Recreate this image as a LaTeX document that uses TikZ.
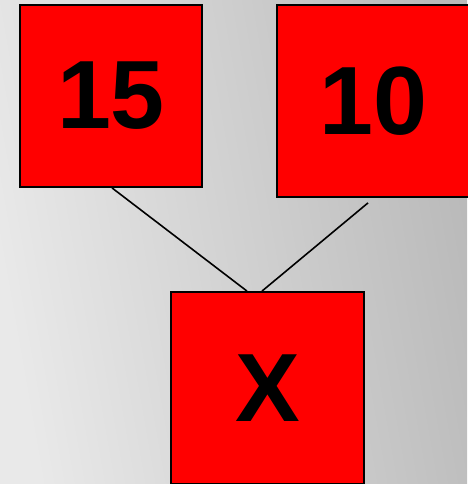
\documentclass[tikz,border=0pt]{standalone}
\usepackage{fontspec}
\setmainfont{Liberation Sans}
\definecolor{bgl}{RGB}{233,233,233}
\definecolor{bgr}{RGB}{186,186,186}
\definecolor{boxred}{RGB}{255,0,0}
\begin{document}
\begin{tikzpicture}[x=1pt,y=-1pt,
  numbox/.style={draw=black,line width=1.8pt,fill=boxred,inner sep=0pt,
    font=\fontsize{97}{97}\selectfont\bfseries},
  link/.style={draw=black,line width=1.6pt}]
\useasboundingbox (0,0) rectangle (467,484);
\shade[left color=bgl,right color=bgr,shading angle=100] (0,0) rectangle (467,484);
\node[numbox,minimum width=182pt,minimum height=182pt] (b15) at (111,96) {15};
\node[numbox,minimum width=193pt,minimum height=192pt] (b10) at (373.5,101) {10};
\node[numbox,minimum width=193pt,minimum height=192pt] (bx) at (267.5,388) {X};
\draw[link] ([xshift=1pt]b15.south) -- ([xshift=-20.5pt]bx.north);
\draw[link] ([shift={(-5.5pt,-5pt)}]b10.south) -- ([xshift=-5.5pt]bx.north);
\end{tikzpicture}
\end{document}
